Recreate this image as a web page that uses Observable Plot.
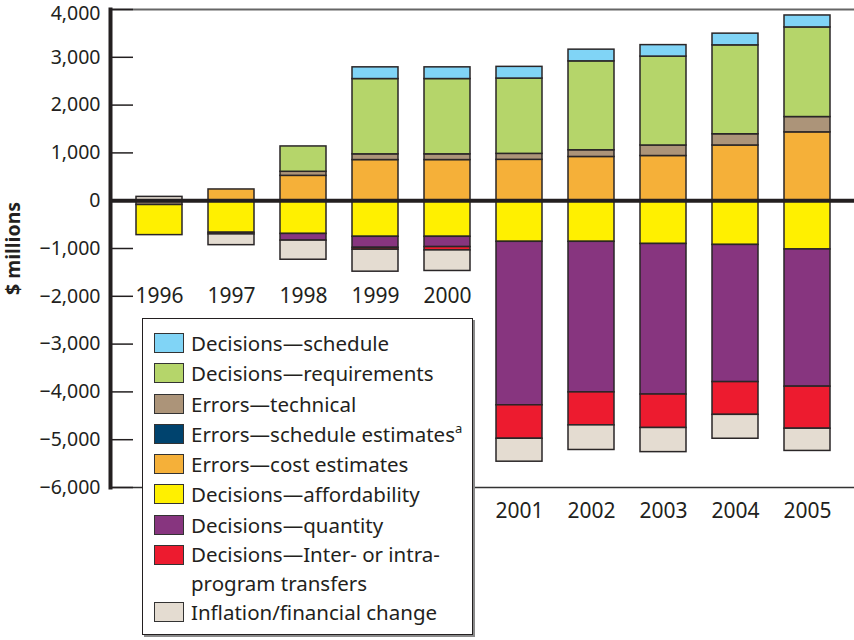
<!DOCTYPE html>
<html>
<head>
<meta charset="utf-8">
<script src="https://cdn.jsdelivr.net/npm/d3@7"></script>
<script src="https://cdn.jsdelivr.net/npm/@observablehq/plot@0.6"></script>
<style>
  body { margin: 0; background: #fff; }
  #wrap { position: relative; width: 854px; height: 640px; font-family: "Noto Sans", sans-serif; color: #231f20; }
  #legend { position: absolute; left: 142px; top: 318px; width: 331px; height: 317px; border: 1.5px solid #231f20; box-shadow: 2px 2px 0 #8a8a8a; background: #fff; box-sizing: border-box; padding-top: 9px; }
  .row { display: flex; align-items: flex-start; height: 30.3px; font-size: 20.5px; }
  .sw { width: 30px; height: 20px; border: 1.5px solid #333; box-sizing: border-box; margin-left: 11px; margin-right: 7px; margin-top: 5px; flex: none; }
  .lbl { line-height: 30px; white-space: nowrap; }
  .row.two { height: 57px; }
  .row.two .lbl { line-height: 28.5px; }
  sup { font-size: 13px; vertical-align: 9px; line-height: 0; }
  svg [aria-label="y-axis label"] text { font-weight: bold; }
</style>
</head>
<body>
<div id="wrap"></div>
<script>
const years = ["1996","1997","1998","1999","2000","2001","2002","2003","2004","2005"];

// Series names (legend order)
const seriesNames = [
  "Decisions—schedule",
  "Decisions—requirements",
  "Errors—technical",
  "Errors—schedule estimates",
  "Errors—cost estimates",
  "Decisions—affordability",
  "Decisions—quantity",
  "Decisions—Inter- or intra-program transfers",
  "Inflation/financial change"
];
const seriesColors = ["#80d4f6","#b5d56a","#ac9479","#00436e","#f5b039","#fff000","#87357f","#ed1b2f","#e4dcd1"];

// Values in $ millions
const decisionsSchedule     = [0, 0, 0, 245, 245, 245, 245, 240, 245, 250];
const decisionsRequirements = [0, 0, 530, 1575, 1575, 1575, 1860, 1860, 1860, 1875];
const errorsTechnical       = [-90, 0, 85, 120, 120, 125, 140, 220, 235, 320];
const errorsScheduleEst     = [0, 0, 0, 0, 0, 0, 0, 0, 0, 0];
const errorsCost            = [0, 235, 520, 850, 850, 855, 915, 935, 1155, 1430];
const decisionsAfford       = [-630, -670, -695, -755, -755, -860, -860, -905, -925, -1020];
const decisionsQuantity     = [0, -35, -140, -230, -215, -3420, -3150, -3150, -2870, -2870];
const decisionsTransfers    = [0, 0, 0, -40, -70, -700, -690, -700, -685, -880];
const inflation             = [80, -225, -400, -460, -430, -480, -515, -505, -500, -465];

const yTicks = [4000, 3000, 2000, 1000, 0, -1000, -2000, -3000, -4000, -5000, -6000];

// stacking order outward from zero
const stackOrder = [
  ["Errors—cost estimates", errorsCost],
  ["Errors—technical", errorsTechnical],
  ["Errors—schedule estimates", errorsScheduleEst],
  ["Decisions—requirements", decisionsRequirements],
  ["Decisions—schedule", decisionsSchedule],
  ["Decisions—affordability", decisionsAfford],
  ["Decisions—quantity", decisionsQuantity],
  ["Decisions—Inter- or intra-program transfers", decisionsTransfers],
  ["Inflation/financial change", inflation]
];

const data = years.flatMap((year, i) =>
  stackOrder.map(([series, vals]) => ({year, series, value: vals[i]})).filter(d => d.value !== 0)
);

const lows = years.map((year, i) => ({
  year,
  low: d3.sum(stackOrder, ([, vals]) => Math.min(0, vals[i]))
}));
const upperLabels = lows.filter(d => d.low > -2000);
const lowerLabels = lows.filter(d => d.low <= -2000);

const fmt = d3.format(",");
const ink = "#231f20";
const yMax = d3.max(yTicks);

const chart = Plot.plot({
  width: 854,
  height: 640,
  marginTop: 9,
  marginBottom: 153,
  marginLeft: 110,
  marginRight: 0,
  style: {fontFamily: "Noto Sans, sans-serif", fontSize: "19px", color: ink, background: "transparent"},
  x: {domain: years, padding: 0.36, range: [110, 856], axis: null},
  y: {domain: [-6000, 4000], axis: null},
  color: {domain: seriesNames, range: seriesColors},
  marks: [
    Plot.barY(data, Plot.stackY({x: "year", y: "value", z: "series", fill: "series", stroke: "#2a2627", strokeWidth: 1.5, inset: 0})),
    Plot.ruleY([0], {stroke: "#231f20", strokeWidth: 4}),
    Plot.frame({anchor: "top", stroke: "#666", strokeWidth: 2}),
    Plot.frame({anchor: "bottom", stroke: "#333", strokeWidth: 1.5}),
    Plot.axisY(yTicks, {tickSize: -23, text: null, label: null, stroke: ink, strokeWidth: 1.5}),
    Plot.axisY(yTicks.filter(t => t !== yMax), {tickSize: 0, tickPadding: 10, tickFormat: fmt, fontSize: 19.5, fill: ink,
      label: "$ millions", labelAnchor: "center", labelArrow: "none", labelOffset: 104}),
    Plot.axisY([yMax], {tickSize: 0, tickPadding: 10, tickFormat: fmt, fontSize: 19.5, fill: ink, dy: 4, label: null}),
    Plot.frame({anchor: "left", stroke: "#231f20", strokeWidth: 4}),
    Plot.text(upperLabels, {x: "year", y: () => -2000, text: "year", fontSize: 21, fill: ink}),
    Plot.text(lowerLabels, {x: "year", y: () => -6000, dy: 24, text: "year", fontSize: 21, fill: ink})
  ]
});

const wrap = document.getElementById("wrap");
wrap.appendChild(chart);

const legend = document.createElement("div");
legend.id = "legend";
const legendLabels = [
  "Decisions—schedule",
  "Decisions—requirements",
  "Errors—technical",
  "Errors—schedule estimates<sup>a</sup>",
  "Errors—cost estimates",
  "Decisions—affordability",
  "Decisions—quantity",
  "Decisions—Inter- or intra-<br>program transfers",
  "Inflation/financial change"
];
legendLabels.forEach((lab, i) => {
  const row = document.createElement("div");
  row.className = "row" + (lab.includes("<br>") ? " two" : "");
  row.innerHTML = `<div class="sw" style="background:${seriesColors[i]}"></div><div class="lbl">${lab}</div>`;
  legend.appendChild(row);
});
wrap.appendChild(legend);
</script>
</body>
</html>
